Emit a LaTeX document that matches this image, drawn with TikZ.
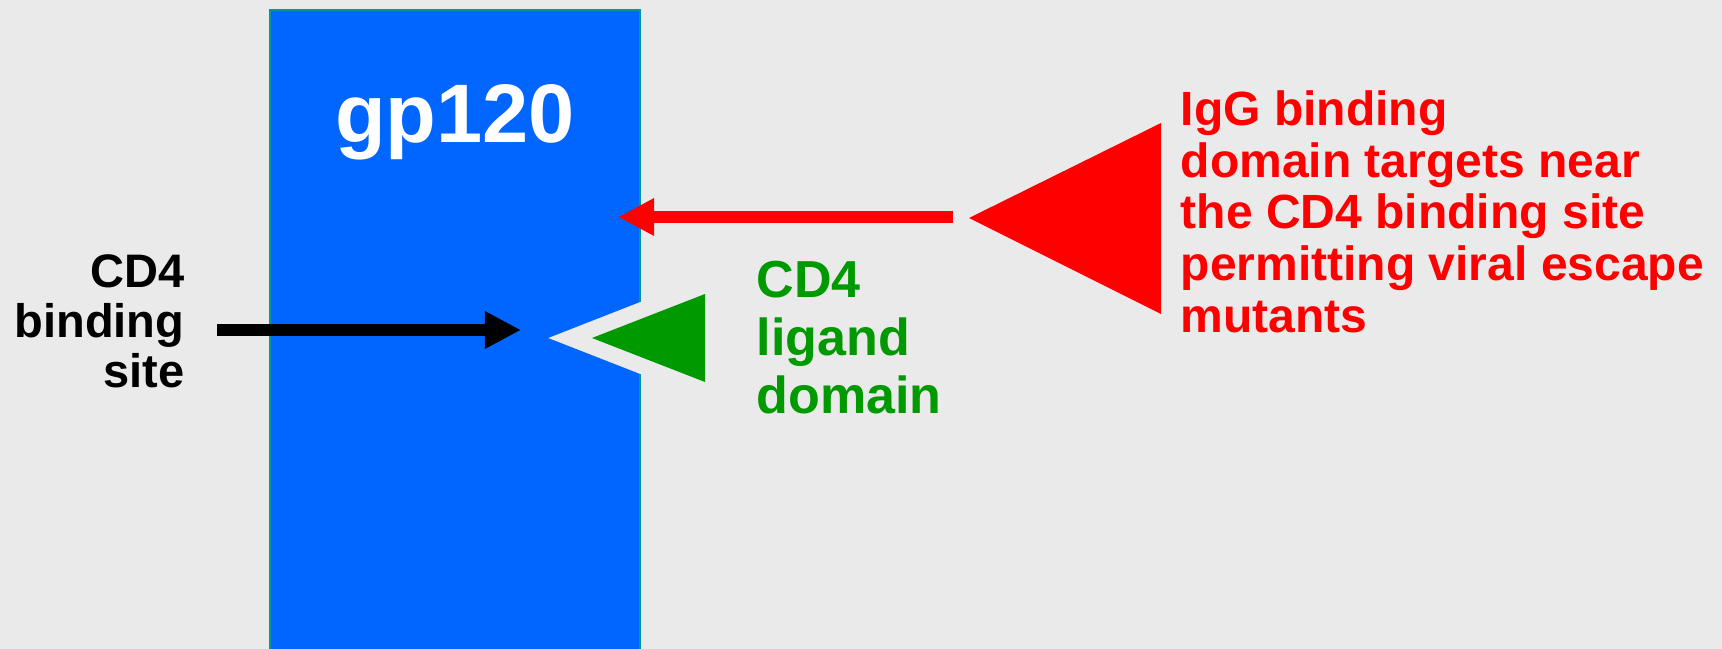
\documentclass[tikz,border=0pt]{standalone}
\usepackage{fontspec}
\setmainfont{Liberation Sans}
\usetikzlibrary{arrows.meta}
\definecolor{bggray}{RGB}{234,234,234}
\definecolor{gpblue}{RGB}{0,102,255}
\definecolor{gpteal}{RGB}{0,153,153}
\definecolor{ligreen}{RGB}{0,153,0}
\begin{document}
\begin{tikzpicture}[x=0.01cm, y=-0.01cm]
        \tikzstyle{lbl} = [inner sep=0pt, font=\bfseries]
        \tikzstyle{shaft} = [line width=0.12cm, -{Triangle[length=0.36cm, width=0.35cm]}]

        \useasboundingbox (0,0) rectangle (1722,649);
        \fill[bggray] (0,0) rectangle (1722,649);
        \clip (0,0) rectangle (1722,649);

        % gp120 block with the notch
        \fill[gpblue] (270,10) -- (640,10) -- (640,302) -- (548,338) -- (640,374) -- (640,660) -- (270,660) -- cycle;
        \draw[gpteal, line width=0.02cm] (640,302) -- (640,10) -- (270,10) -- (270,660);
        \draw[gpteal, line width=0.02cm] (640,374) -- (640,660);

        \node (gp) [lbl, anchor=base, text=white, font=\bfseries\fontsize{23.6}{28}\selectfont] at (455,143) {gp120};
        \node (site) [lbl, anchor=north east, align=right, font=\bfseries\fontsize{13.37}{14.23}\selectfont] at (185,254) {CD4\\binding\\site};
        \node (ligand) [lbl, anchor=north west, align=left, text=ligreen, font=\bfseries\fontsize{14.8}{16.5}\selectfont] at (756,260) {CD4\\ligand\\domain};
        \node (igg) [lbl, anchor=north west, align=left, text=red, font=\bfseries\fontsize{13.66}{14.7}\selectfont] at (1180,90) {IgG binding\\domain targets near\\the CD4 binding site\\permitting viral escape\\mutants};

        % triangles
        \fill[ligreen] (592,338) -- (705,294) -- (705,382) -- cycle;
        \fill[red] (969,218) -- (1161,123) -- (1161,314) -- cycle;

        \coordinate (b0) at (217,330);
        \coordinate (b1) at (521,330);
        \coordinate (r0) at (953,217);
        \coordinate (r1) at (618,217);
        \draw[shaft] (b0) -- (b1);
        \draw[shaft, red, line width=0.11cm] (r0) -- (r1);
\end{tikzpicture}
\end{document}
